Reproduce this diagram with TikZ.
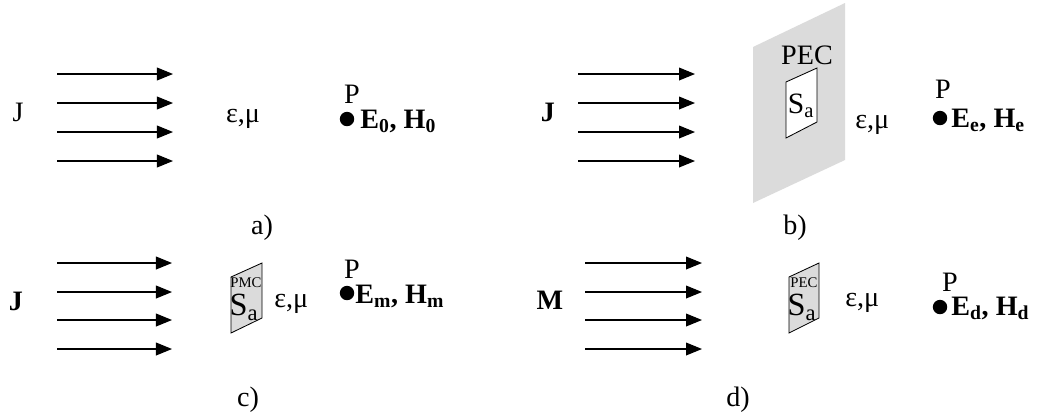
\documentclass[tikz,border=0pt]{standalone}
\usepackage{fontspec}
\setmainfont{Liberation Serif}
\usetikzlibrary{arrows.meta}

\begin{document}
\begin{tikzpicture}[x=0.025cm, y=-0.025cm, >={Triangle[length=4mm,width=3.2mm]},
  font=\fontsize{20}{23}\selectfont,
  txt/.style={inner sep=0pt},
  tiny/.style={inner sep=0pt, font=\fontsize{10.5}{11}\selectfont},
  big/.style={inner sep=0pt, font=\fontsize{23}{25}\selectfont},
  flow/.style={->, line width=0.8pt},
  plate/.style={draw, line width=0.6pt, fill=gray!28},
  hole/.style={draw, line width=0.6pt, fill=white},
  pnt/.style={circle, fill, inner sep=0pt, minimum size=3.6mm}]
  \useasboundingbox (0,0) rectangle (1040,416);

  % a) free space
  \node[txt, anchor=base] (ja) at (18,121) {J};
  \foreach \y [count=\i] in {74,103,132,161} {
    \coordinate (as\i) at (57,\y);
    \coordinate (ae\i) at (173,\y);
    \draw[flow] (as\i) -- (ae\i);
  }
  \node[txt, anchor=base] (ema) at (243,122) {ε,μ};
  \node[pnt] (pa) at (347,119) {};
  \node[txt, anchor=base] (lpa) at (352,103) {P};
  \node[txt, anchor=base west] (fa) at (360,128) {\textbf{E\textsubscript{0}, H\textsubscript{0}}};
  \node[txt] (capa) at (262,228) {a)};

  % b) electric screen
  \node[txt, anchor=base] (jb) at (548,121) {\textbf{J}};
  \foreach \y [count=\i] in {74,103,132,161} {
    \coordinate (bs\i) at (578,\y);
    \coordinate (be\i) at (695,\y);
    \draw[flow] (bs\i) -- (be\i);
  }
  \fill[gray!28] (753,47) -- (845,3) -- (845,160) -- (753,203) -- cycle;
  \draw[hole] (786,82) -- (817,68) -- (817,122) -- (786,138) -- cycle;
  \node[txt] (pecb) at (807,55) {PEC};
  \node[txt, font=\fontsize{21}{23}\selectfont] (sab) at (801,106) {S\textsubscript{a}};
  \node[txt, anchor=base west] (emb) at (855,128) {ε,μ};
  \node[pnt] (pb) at (940,118) {};
  \node[txt, anchor=base] (lpb) at (943,98) {P};
  \node[txt, anchor=base west] (fb) at (951,127) {\textbf{E\textsubscript{e}, H\textsubscript{e}}};
  \node[txt] (capb) at (795,228) {b)};

  % c) magnetic plate
  \node[txt, anchor=base] (jc) at (16,310) {\textbf{J}};
  \foreach \y [count=\i] in {263,292,320,349} {
    \coordinate (cs\i) at (57,\y);
    \coordinate (ce\i) at (172,\y);
    \draw[flow] (cs\i) -- (ce\i);
  }
  \draw[plate] (231,277) -- (262,263) -- (262,318) -- (231,333) -- cycle;
  \node[tiny, anchor=base] (pmcc) at (246,287) {PMC};
  \node[big, anchor=base] (sac) at (244,315) {S\textsubscript{a}};
  \node[txt, anchor=base west] (emc) at (274,307) {ε,μ};
  \node[pnt] (pc) at (347,293) {};
  \node[txt, anchor=base] (lpc) at (352,278) {P};
  \node[txt, anchor=base west] (fc) at (355,303) {\textbf{E\textsubscript{m}, H\textsubscript{m}}};
  \node[txt] (capc) at (248,400) {c)};

  % d) dual problem
  \node[txt, anchor=base] (md) at (550,309) {\textbf{M}};
  \foreach \y [count=\i] in {263,292,320,349} {
    \coordinate (ds\i) at (585,\y);
    \coordinate (de\i) at (702,\y);
    \draw[flow] (ds\i) -- (de\i);
  }
  \draw[plate] (789,277) -- (819,263) -- (819,318) -- (789,333) -- cycle;
  \node[tiny, anchor=base] (pecd) at (804,287) {PEC};
  \node[big, anchor=base] (sad) at (802,315) {S\textsubscript{a}};
  \node[txt, anchor=base west] (emd) at (845,306) {ε,μ};
  \node[pnt] (pd) at (940,307) {};
  \node[txt, anchor=base] (lpd) at (950,291) {P};
  \node[txt, anchor=base west] (fd) at (951,315) {\textbf{E\textsubscript{d}, H\textsubscript{d}}};
  \node[txt] (capd) at (738,400) {d)};
\end{tikzpicture}
\end{document}
